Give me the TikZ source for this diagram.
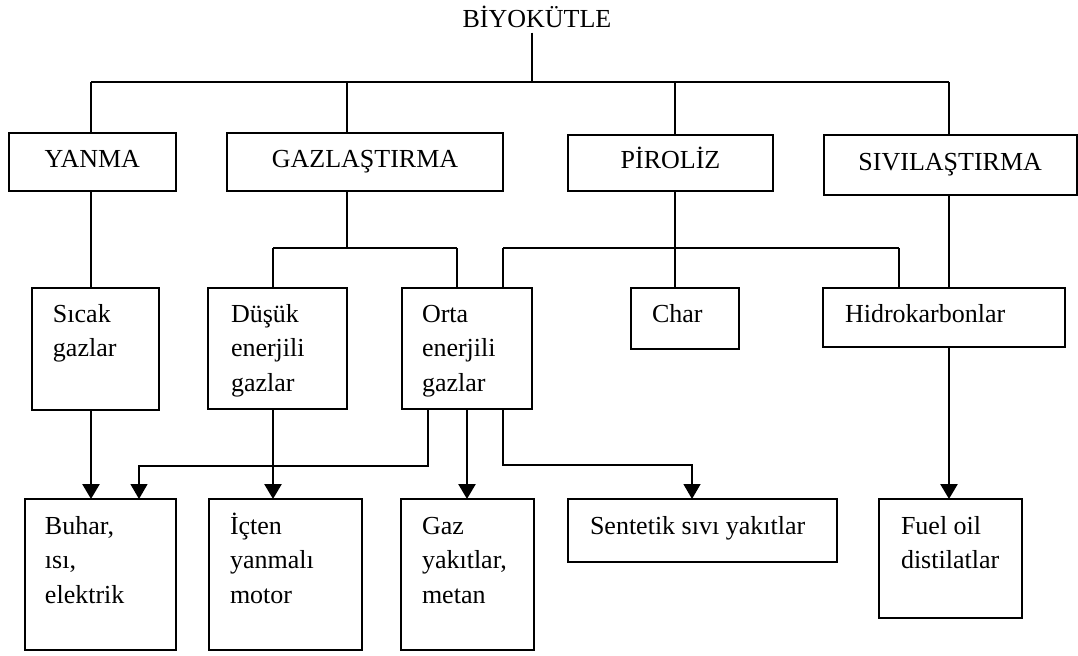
\documentclass[tikz,border=0pt]{standalone}
\usepackage{fontspec}
\setmainfont{Liberation Serif}
\usetikzlibrary{arrows.meta}
\newcommand\tb[5]{\vbox to #2{\kern#4\relax\nointerlineskip\hbox to #1{\kern#3\relax\smash{\vtop{\baselineskip=17.25pt\halign{##\hfil\cr#5\crcr}}}\hfil}\vss}}
\begin{document}
\begin{tikzpicture}[x=0.5pt,y=-0.5pt,
  every node/.style={font=\fontsize{13}{17}\selectfont},
  topbox/.style={draw,line width=1pt,inner sep=0pt,outer sep=0pt,text height=8.5pt,text depth=3.5pt},
  txtbox/.style={draw,line width=1pt,inner sep=0pt,outer sep=0pt,anchor=north west},
  conn/.style={line width=0.8pt},
  arr/.style={line width=1.3pt,-{Triangle[length=7.5pt,width=8.5pt]}},
  arrthin/.style={line width=0.7pt,-{Triangle[length=7.5pt,width=8.5pt]}}]
\useasboundingbox (0,0) rectangle (1078,655);

% title
\node[anchor=base,inner sep=2.5pt] (bio) at (537,27) {BİYOKÜTLE};

% first level
\node[topbox,minimum width=83.7pt,minimum height=29pt] (yanma) at (92.3,162) {YANMA};
\node[topbox,minimum width=138.4pt,minimum height=29pt] (gaz) at (365,162) {GAZLAŞTIRMA};
\node[topbox,minimum width=102.5pt,minimum height=28pt] (piroliz) at (670.5,163) {PİROLİZ};
\node[topbox,minimum width=126.3pt,minimum height=30pt] (siv) at (950.2,165) {SIVILAŞTIRMA};

% second level
\node[txtbox] (sicak) at (32,288) {\tb{63.5pt}{61pt}{10.5pt}{17pt}{Sıcak\cr gazlar}};
\node[txtbox] (dusuk) at (208,288) {\tb{69.5pt}{60.5pt}{11.5pt}{17pt}{Düşük\cr enerjili\cr gazlar}};
\node[txtbox] (orta) at (401.5,288) {\tb{65.25pt}{60.5pt}{10.25pt}{17pt}{Orta\cr enerjili\cr gazlar}};
\node[txtbox] (char) at (631,288) {\tb{54pt}{30.5pt}{10.5pt}{17pt}{Char}};
\node[txtbox] (hidro) at (823,288) {\tb{121pt}{29.5pt}{11pt}{17pt}{Hidrokarbonlar}};

% third level
\node[txtbox] (buhar) at (25,499) {\tb{75.5pt}{75.5pt}{10pt}{17.5pt}{Buhar,\cr ısı,\cr elektrik}};
\node[txtbox] (icten) at (209,499) {\tb{76.5pt}{75.5pt}{10.5pt}{17.5pt}{İçten\cr yanmalı\cr motor}};
\node[txtbox] (gazy) at (401,499) {\tb{66.5pt}{75.5pt}{10.5pt}{17.5pt}{Gaz\cr yakıtlar,\cr metan}};
\node[txtbox] (sent) at (568,499) {\tb{134.5pt}{31.5pt}{11pt}{17.5pt}{Sentetik sıvı yakıtlar}};
\node[txtbox] (fuel) at (879,499) {\tb{71.5pt}{59.5pt}{11pt}{17.5pt}{Fuel oil\cr distilatlar}};

% junction coordinates
\coordinate (tk) at (532,82);
\coordinate (b1) at (91,82);
\coordinate (b2) at (347,82);
\coordinate (b3) at (675,82);
\coordinate (b4) at (949,82);
\coordinate (g1) at (347,248);
\coordinate (d1) at (273,248);
\coordinate (o1) at (457,248);
\coordinate (p1) at (503,248);
\coordinate (p2) at (899,248);
\coordinate (r1) at (428,466);
\coordinate (r2) at (139,466);
\coordinate (og) at (467,466);
\coordinate (s1) at (503,465);
\coordinate (s2) at (692,465);

% top tree
\draw[conn] (bio.south -| tk) -- (tk);
\draw[conn] (b1) -- (b4);
\draw[conn] (b1) -- (yanma.north -| b1);
\draw[conn] (b2) -- (gaz.north -| b2);
\draw[conn] (b3) -- (piroliz.north -| b3);
\draw[conn] (b4) -- (siv.north -| b4);

% second level connectors
\draw[conn] (yanma.south -| b1) -- (sicak.north -| b1);
\draw[conn] (gaz.south -| g1) -- (g1);
\draw[conn] (d1) -- (o1);
\draw[conn] (d1) -- (dusuk.north -| d1);
\draw[conn] (o1) -- (orta.north -| o1);
\draw[conn] (p1) -- (p2);
\draw[conn] (p1) -- (orta.north -| p1);
\draw[conn] (p2) -- (hidro.north -| p2);
\draw[conn] (piroliz.south -| b3) -- (char.north -| b3);
\draw[conn] (siv.south -| b4) -- (hidro.north -| b4);

% arrows
\draw[arr] (sicak.south -| b1) -- (buhar.north -| b1);
\draw[arrthin] (orta.south -| r1) -- (r1) -- (r2) -- (buhar.north -| r2);
\draw[arr] (dusuk.south -| d1) -- (icten.north -| d1);
\draw[arr] (orta.south -| og) -- (gazy.north -| og);
\draw[arrthin] (orta.south -| s1) -- (s1) -- (s2) -- (sent.north -| s2);
\draw[arr] (hidro.south -| b4) -- (fuel.north -| b4);
\end{tikzpicture}
\end{document}
